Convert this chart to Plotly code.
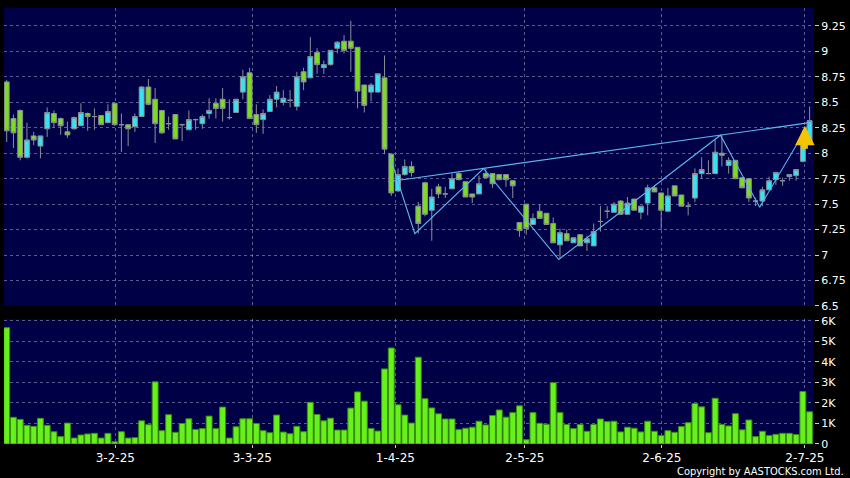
import plotly.graph_objects as go

# ---------------- data ----------------
opens = [8.70, 8.34, 8.42, 7.96, 8.17, 8.07, 8.24, 8.39, 8.34, 8.21,
         8.24, 8.27, 8.39, 8.36, 8.37, 8.30, 8.49, 8.28, 8.28, 8.26,
         8.36, 8.65, 8.53, 8.42, 8.29, 8.38, 8.28, 8.23, 8.33, 8.29,
         8.39, 8.49, 8.53, 8.35, 8.40, 8.60, 8.79, 8.38, 8.33, 8.41,
         8.53, 8.50, 8.52, 8.46, 8.80, 8.74, 8.99, 8.84, 8.87, 9.03,
         9.10, 9.10, 9.04, 8.67, 8.60, 8.60, 8.74, 7.99, 7.63, 7.79,
         7.87, 7.48, 7.71, 7.44, 7.67, 7.60, 7.65, 7.80, 7.72, 7.60,
         7.60, 7.80, 7.80, 7.79, 7.79, 7.73, 7.32, 7.50, 7.30, 7.43,
         7.41, 7.31, 7.10, 7.21, 7.12, 7.20, 7.12, 7.09, 7.33, 7.43,
         7.42, 7.53, 7.40, 7.55, 7.42, 7.51, 7.66, 7.61, 7.43, 7.68,
         7.59, 7.48, 7.56, 7.80, 7.80, 7.80, 8.00, 7.88, 7.93, 7.76,
         7.75, 7.53, 7.53, 7.64, 7.74, 7.73, 7.77, 7.78, 7.92, 8.11]
highs = [8.72, 8.38, 8.43, 8.30, 8.21, 8.17, 8.45, 8.42, 8.35, 8.31,
         8.36, 8.49, 8.40, 8.44, 8.37, 8.48, 8.50, 8.39, 8.28, 8.39,
         8.66, 8.73, 8.64, 8.42, 8.36, 8.38, 8.29, 8.42, 8.34, 8.38,
         8.54, 8.54, 8.64, 8.53, 8.53, 8.82, 8.84, 8.48, 8.43, 8.57,
         8.66, 8.62, 8.62, 8.80, 8.84, 9.14, 9.03, 8.91, 9.01, 9.10,
         9.16, 9.30, 9.04, 8.67, 8.69, 8.78, 8.96, 8.00, 7.85, 7.94,
         7.92, 7.52, 7.72, 7.65, 7.70, 7.67, 7.80, 7.82, 7.72, 7.60,
         7.78, 7.85, 7.80, 7.79, 7.79, 7.73, 7.32, 7.50, 7.41, 7.50,
         7.41, 7.37, 7.26, 7.25, 7.17, 7.20, 7.19, 7.31, 7.48, 7.48,
         7.52, 7.54, 7.57, 7.55, 7.48, 7.69, 7.68, 7.61, 7.66, 7.68,
         7.59, 7.52, 7.85, 7.96, 7.93, 8.13, 8.18, 7.96, 7.93, 7.76,
         7.75, 7.56, 7.67, 7.77, 7.82, 7.76, 7.79, 7.84, 8.12, 8.46]
lows = [8.11, 8.05, 7.93, 7.95, 8.08, 7.95, 8.16, 8.25, 8.18, 8.15,
        8.23, 8.27, 8.22, 8.23, 8.28, 8.30, 8.27, 8.01, 8.07, 8.21,
        8.36, 8.47, 8.10, 8.19, 8.23, 8.14, 8.12, 8.23, 8.23, 8.24,
        8.34, 8.34, 8.31, 8.33, 8.40, 8.53, 8.34, 8.20, 8.19, 8.41,
        8.45, 8.47, 8.45, 8.42, 8.62, 8.74, 8.78, 8.78, 8.86, 8.98,
        8.98, 8.80, 8.44, 8.40, 8.51, 8.60, 7.99, 7.58, 7.62, 7.78,
        7.77, 7.21, 7.38, 7.14, 7.56, 7.56, 7.65, 7.74, 7.57, 7.51,
        7.60, 7.76, 7.66, 7.74, 7.67, 7.56, 7.18, 7.20, 7.30, 7.36,
        7.30, 7.12, 6.97, 7.14, 7.12, 7.09, 7.04, 7.09, 7.23, 7.36,
        7.42, 7.40, 7.40, 7.44, 7.35, 7.39, 7.62, 7.25, 7.43, 7.58,
        7.48, 7.39, 7.52, 7.75, 7.80, 7.80, 7.87, 7.80, 7.75, 7.66,
        7.52, 7.48, 7.48, 7.64, 7.69, 7.68, 7.73, 7.73, 7.91, 8.10]
closes = [8.22, 8.20, 7.96, 8.13, 8.13, 8.17, 8.40, 8.30, 8.27, 8.18,
          8.35, 8.40, 8.36, 8.36, 8.28, 8.41, 8.28, 8.28, 8.24, 8.36,
          8.65, 8.48, 8.29, 8.20, 8.29, 8.14, 8.28, 8.33, 8.33, 8.36,
          8.42, 8.44, 8.44, 8.35, 8.53, 8.75, 8.34, 8.28, 8.39, 8.53,
          8.60, 8.54, 8.52, 8.75, 8.70, 8.95, 8.87, 8.87, 9.01, 9.09,
          9.01, 9.03, 8.61, 8.47, 8.67, 8.78, 8.04, 7.61, 7.79, 7.87,
          7.81, 7.31, 7.40, 7.57, 7.60, 7.60, 7.75, 7.74, 7.57, 7.57,
          7.70, 7.76, 7.70, 7.74, 7.74, 7.68, 7.24, 7.26, 7.36, 7.36,
          7.30, 7.12, 7.22, 7.14, 7.17, 7.09, 7.16, 7.23, 7.33, 7.43,
          7.50, 7.40, 7.51, 7.44, 7.48, 7.66, 7.62, 7.44, 7.58, 7.58,
          7.48, 7.48, 7.80, 7.84, 7.80, 8.01, 7.98, 7.93, 7.75, 7.66,
          7.56, 7.53, 7.64, 7.73, 7.81, 7.73, 7.79, 7.84, 8.10, 8.32]
volumes = [5670, 1300, 1200, 910, 860, 1250, 910, 600, 360, 1020,
           290, 440, 490, 520, 290, 520, 110, 600, 290, 310,
           1130, 940, 3030, 650, 1430, 570, 1000, 1230, 710, 750,
           1360, 750, 1800, 290, 840, 1230, 1230, 1000, 650, 550,
           1410, 580, 500, 860, 600, 2030, 1440, 1130, 1260, 680,
           680, 1750, 2540, 2090, 760, 630, 3660, 4680, 1910, 1410,
           1020, 4230, 2210, 1760, 1470, 1220, 1220, 700, 770, 820,
           1110, 930, 1390, 1660, 1310, 1530, 1860, 210, 1530, 1010,
           960, 2990, 1530, 950, 750, 950, 620, 950, 1220, 1090,
           1110, 590, 820, 770, 590, 1110, 620, 410, 650, 570,
           850, 1040, 1970, 1810, 550, 2230, 950, 880, 1480, 690,
           1170, 360, 620, 410, 470, 520, 520, 460, 2560, 1570]

# date axis labels (D-M-YY) and the candle index each one falls on
tick_labels = ["3-2-25", "3-3-25", "1-4-25", "2-5-25", "2-6-25", "2-7-25"]
tick_index = [16.1, 36.4, 57.6, 76.8, 97.1, 118.3]

price_ticks = [6.5, 6.75, 7.0, 7.25, 7.5, 7.75, 8.0, 8.25, 8.5, 8.75, 9.0, 9.25]
price_tick_text = ["6.5", "6.75", "7", "7.25", "7.5", "7.75", "8", "8.25", "8.5", "8.75", "9", "9.25"]
vol_ticks = [0, 1000, 2000, 3000, 4000, 5000, 6000]
vol_tick_text = ["0", "1K", "2K", "3K", "4K", "5K", "6K"]

# hand-drawn trend lines (candle index, price)
zigzag_x = [56.64, 60.49, 70.67, 81.82, 105.78, 111.6, 119.0]
zigzag_y = [8.00, 7.21, 7.85, 6.956, 8.177, 7.47, 8.30]
trend_x = [56.53, 119.0]
trend_y = [7.72, 8.30]

# breakout arrow (candle index, tail price, tip price)
arrow_x = 118.3
arrow_tail = 8.03
arrow_tip = 8.27

# ---------------- figure ----------------
idx = list(range(len(opens)))

NAVY = "#000046"
GRID = "rgba(130,130,180,0.7)"
CYAN = "#33e4f2"
GREEN = "#7ddc22"
WICK = "#8a8f96"

fig = go.Figure()
fig.add_trace(go.Candlestick(
    x=idx, open=opens, high=highs, low=lows, close=closes,
    xaxis="x", yaxis="y",
    increasing=dict(fillcolor=CYAN, line=dict(color=WICK, width=1)),
    decreasing=dict(fillcolor=GREEN, line=dict(color=WICK, width=1)),
    whiskerwidth=0, showlegend=False, hoverinfo="skip",
))
fig.add_trace(go.Scatter(x=trend_x, y=trend_y, mode="lines", xaxis="x", yaxis="y",
                         line=dict(color="#5ab6ec", width=1.1), showlegend=False, hoverinfo="skip"))
fig.add_trace(go.Scatter(x=zigzag_x, y=zigzag_y, mode="lines", xaxis="x", yaxis="y",
                         line=dict(color="#5ab6ec", width=1.1), showlegend=False, hoverinfo="skip"))
fig.add_trace(go.Bar(x=idx, y=volumes, xaxis="x2", yaxis="y2",
                     marker=dict(color="#66f01c", line=dict(color="#3a8c12", width=1)),
                     showlegend=False, hoverinfo="skip"))

xrange = [-0.4, 119.65]
rfont = dict(family="DejaVu Sans, Verdana, sans-serif", size=11, color="#ffffff")
bfont = dict(family="DejaVu Sans, Verdana, sans-serif", size=12, color="#ffffff")
DASH = "3px,3px"

fig.update_layout(
    width=850, height=478,
    margin=dict(l=4, r=35, t=5, b=34),
    paper_bgcolor="#000000", plot_bgcolor=NAVY,
    bargap=0.12, boxgap=0.0, boxgroupgap=0.28,
    xaxis=dict(domain=[0, 1], anchor="y", range=xrange, tickmode="array",
               tickvals=tick_index, showticklabels=False, ticks="",
               showgrid=True, gridcolor=GRID, griddash=DASH, gridwidth=1,
               zeroline=False, showline=False, rangeslider=dict(visible=False), fixedrange=True),
    yaxis=dict(domain=[0.3166, 1], anchor="x", side="right", range=[6.5, 9.426],
               tickmode="array", tickvals=price_ticks, ticktext=price_tick_text,
               ticks="outside", ticklen=4, tickcolor="#cccccc", tickfont=rfont,
               showgrid=True, gridcolor=GRID, griddash=DASH, gridwidth=1,
               zeroline=False, showline=False),
    xaxis2=dict(domain=[0, 1], anchor="y2", range=xrange, tickmode="array",
                tickvals=tick_index, ticktext=tick_labels, ticks="outside", ticklen=3,
                tickcolor="#cccccc", tickfont=bfont,
                showgrid=True, gridcolor=GRID, griddash=DASH, gridwidth=1,
                zeroline=False, showline=False),
    yaxis2=dict(domain=[0, 0.287], anchor="x2", side="right", range=[0, 6100],
                tickmode="array", tickvals=vol_ticks, ticktext=vol_tick_text,
                ticks="outside", ticklen=4, tickcolor="#cccccc", tickfont=rfont,
                showgrid=True, gridcolor=GRID, griddash=DASH, gridwidth=1,
                zeroline=False, showline=False),
)

# yellow up-arrow marking the last breakout
fig.add_annotation(x=arrow_x, y=arrow_tip, ax=arrow_x, ay=arrow_tail,
                   xref="x", yref="y", axref="x", ayref="y",
                   text="", showarrow=True, arrowhead=2, arrowsize=0.65, arrowwidth=6,
                   arrowcolor="#f5c400")

fig.add_annotation(x=1, y=-0.062, xref="paper", yref="paper", xanchor="right", yanchor="middle",
                   xshift=32, text="Copyright by AASTOCKS.com Ltd.", showarrow=False,
                   font=dict(family="DejaVu Sans Condensed, DejaVu Sans, sans-serif", size=11, color="#ffffff"))

fig.write_html("out.html", config={"displayModeBar": False, "staticPlot": True},
               post_script="document.body.style.margin='0';document.body.style.overflow='hidden';")
